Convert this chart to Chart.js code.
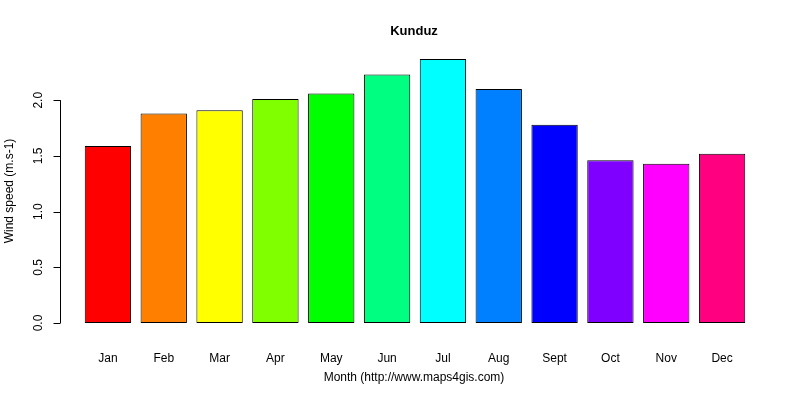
<!DOCTYPE html>
<html>
<head>
<script src="https://cdn.jsdelivr.net/npm/chart.js@4/dist/chart.umd.min.js"></script>
<style>body{margin:0;background:#fff}#wrap{width:800px;height:400px}</style>
</head>
<body>
<div id="wrap"><canvas id="c"></canvas></div>
<script>
const months = ['Jan','Feb','Mar','Apr','May','Jun','Jul','Aug','Sept','Oct','Nov','Dec'];
const windSpeed = [1.59, 1.88, 1.91, 2.01, 2.06, 2.23, 2.37, 2.10, 1.78, 1.46, 1.43, 1.52];
const barColors = ['#FF0000','#FF8000','#FFFF00','#80FF00','#00FF00','#00FF80','#00FFFF','#0080FF','#0000FF','#8000FF','#FF00FF','#FF0080'];
const yTicks = [0, 0.5, 1, 1.5, 2];
const yTickLabels = ['0.0','0.5','1.0','1.5','2.0'];

const FONT = '"Liberation Sans", Arial, sans-serif';

const decor = {
  id: 'decor',
  afterDraw(chart) {
    const ctx = chart.ctx, y = chart.scales.y;
    ctx.save();
    ctx.strokeStyle = '#000'; ctx.lineWidth = 1; ctx.fillStyle = '#000';
    const ax = 60.5;
    ctx.beginPath();
    ctx.moveTo(ax, y.getPixelForValue(0)); ctx.lineTo(ax, y.getPixelForValue(2));
    yTicks.forEach(v => { const p = Math.round(y.getPixelForValue(v)) + 0.5; ctx.moveTo(ax, p); ctx.lineTo(ax - 7, p); });
    ctx.stroke();
    ctx.font = '12px ' + FONT;
    ctx.textAlign = 'center'; ctx.textBaseline = 'middle';
    yTicks.forEach((v, i) => {
      ctx.save(); ctx.translate(39, y.getPixelForValue(v)); ctx.rotate(-Math.PI / 2);
      ctx.fillText(yTickLabels[i], 0, 0); ctx.restore();
    });
    ctx.save(); ctx.translate(10, 191); ctx.rotate(-Math.PI / 2);
    ctx.fillText('Wind speed (m.s-1)', 0, 0); ctx.restore();
    ctx.fillText('Month (http://www.maps4gis.com)', 414, 378);
    ctx.font = 'bold 13px ' + FONT;
    ctx.fillText('Kunduz', 414, 31);
    ctx.restore();
  }
};

new Chart(document.getElementById('c'), {
  type: 'bar',
  data: {
    labels: months,
    datasets: [{
      data: windSpeed,
      backgroundColor: barColors,
      borderColor: '#000',
      borderWidth: 1,
      borderSkipped: false,
      barPercentage: 0.83,
      categoryPercentage: 1
    }]
  },
  options: {
    responsive: true,
    maintainAspectRatio: false,
    animation: false,
    layout: { padding: { left: 80, right: 50, top: 59, bottom: 0 } },
    plugins: { legend: { display: false }, tooltip: { enabled: false } },
    scales: {
      x: {
        grid: { display: false }, border: { display: false },
        ticks: { color: '#000', font: { family: FONT, size: 12 }, padding: 20 },
        afterFit(s) { s.height = 77; }
      },
      y: { display: false, min: 0, max: 2.37 }
    }
  },
  plugins: [decor]
});
</script>
</body>
</html>
